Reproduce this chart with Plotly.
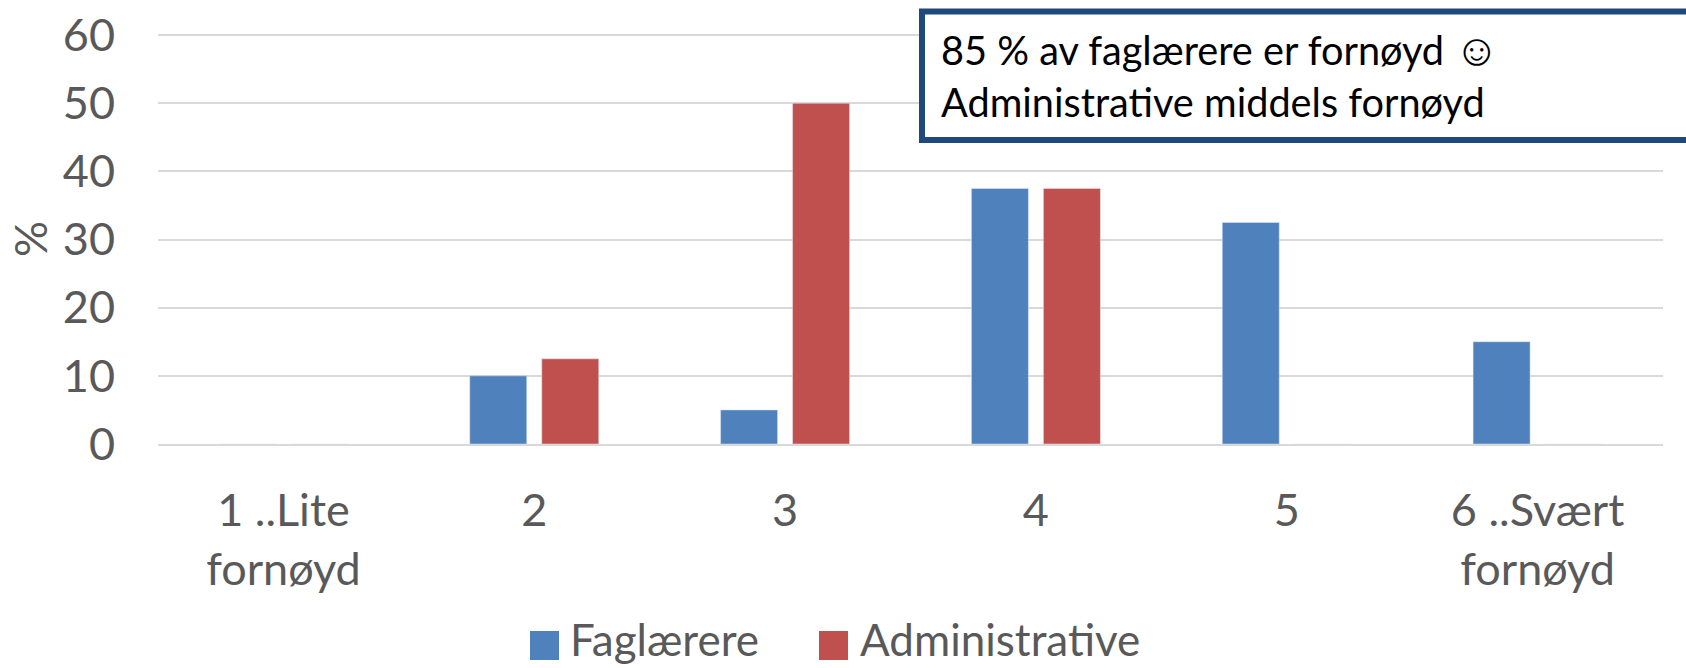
import plotly.graph_objects as go

# data
KATEGORIER = ['1 ..Lite<br>fornøyd', '2', '3', '4', '5', '6 ..Svært<br>fornøyd']
FAGLAERERE = [0, 10, 5, 37.5, 32.5, 15]
ADMINISTRATIVE = [0, 12.5, 50, 37.5, 0, 0]
Y_TICKS = [0, 10, 20, 30, 40, 50, 60]
TEKSTBOKS = '85 % av faglærere er fornøyd <span style="font-size:44px">☺</span><br>Administrative middels fornøyd'

BLA = '#4f81bd'
ROD = '#c0504d'
TEKST = '#595959'
GRID = '#d9d9d9'
RAMME = '#1f497d'
FONT = 'Lato, Open Sans, sans-serif'

W, H = 1686, 668
L, R, T, B = 158, 23, 33, 224


def px_x(p):
    return (p - L) / (W - L - R)


def px_y(p):
    return (H - B - p) / (H - T - B)


fig = go.Figure()
fig.add_trace(go.Bar(x=KATEGORIER, y=FAGLAERERE, name='Faglærere', marker_color=BLA))
fig.add_trace(go.Bar(x=KATEGORIER, y=ADMINISTRATIVE, name='Administrative', marker_color=ROD))

fig.update_layout(
    width=W, height=H,
    margin=dict(l=L, r=R, t=T, b=B, autoexpand=False),
    paper_bgcolor='white', plot_bgcolor='white',
    barmode='group', bargap=0.426, bargroupgap=0.208,
    font=dict(family=FONT, size=45, color=TEKST),
    showlegend=False,
)
fig.update_xaxes(showline=True, linecolor=GRID, linewidth=2, ticks='outside', ticklen=26,
                 tickcolor='rgba(0,0,0,0)', automargin=False)
# litt over 60, ellers fjerner plotly gridlinjen helt i toppen
fig.update_yaxes(range=[0, 60.3], tickvals=Y_TICKS, gridcolor=GRID, gridwidth=2,
                 zeroline=False, ticks='', ticklabelstandoff=42, automargin=False)

# aksetittel
fig.add_annotation(xref='paper', yref='paper', x=px_x(30), y=px_y(239), xanchor='center', yanchor='middle',
                   text='%', textangle=-90, showarrow=False, font=dict(size=45, color=TEKST))

# tekstboks, går ut over høyre kant
fig.add_shape(type='rect', xref='paper', yref='paper', x0=px_x(922), x1=px_x(1760),
              y0=px_y(140), y1=px_y(11.5), fillcolor='white', line=dict(color=RAMME, width=6))
fig.add_annotation(
    xref='paper', yref='paper', x=px_x(939), y=px_y(73), xanchor='left', yanchor='middle',
    text=TEKSTBOKS, showarrow=False, align='left', font=dict(size=39.7, color='black'),
)

# forklaring (større fargeruter enn plotly sin egen legend)
for navn, farge, x0, x_tekst in [('Faglærere', BLA, 530, 568), ('Administrative', ROD, 819, 858)]:
    fig.add_shape(type='rect', xref='paper', yref='paper', x0=px_x(x0), x1=px_x(x0 + 29),
                  y0=px_y(660), y1=px_y(631), fillcolor=farge, line_width=0)
    fig.add_annotation(xref='paper', yref='paper', x=px_x(x_tekst), y=px_y(639), xanchor='left', yanchor='middle',
                       text=navn, showarrow=False, font=dict(size=44, color=TEKST))

fig.write_html("out.html", config={'displayModeBar': False}, post_script="document.body.style.margin='0'")
